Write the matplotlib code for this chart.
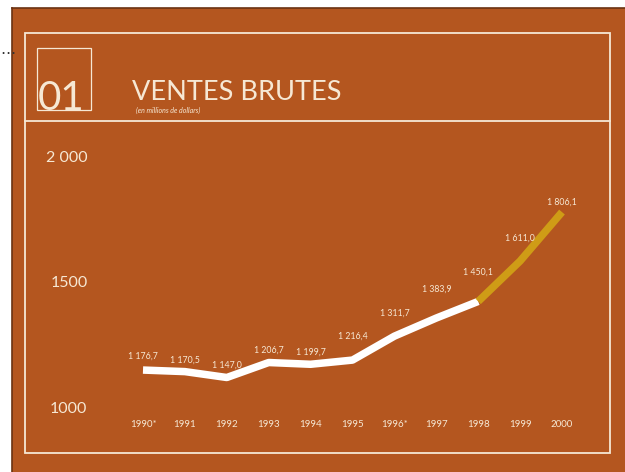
import matplotlib
matplotlib.use("Agg")
import matplotlib.pyplot as plt
from matplotlib.patches import Rectangle
from matplotlib.lines import Line2D
from matplotlib.transforms import ScaledTranslation

# ---- data ----
years = [1990, 1991, 1992, 1993, 1994, 1995, 1996, 1997, 1998, 1999, 2000]
year_labels = ["1990*", "1991", "1992", "1993", "1994", "1995", "1996*", "1997", "1998", "1999", "2000"]
sales = [1176.7, 1170.5, 1147.0, 1206.7, 1199.7, 1216.4, 1311.7, 1383.9, 1450.1, 1611.0, 1806.1]
value_labels = ["1 176,7", "1 170,5", "1 147,0", "1 206,7", "1 199,7", "1 216,4",
                "1 311,7", "1 383,9", "1 450,1", "1 611,0", "1 806,1"]
y_ticks = [1000, 1500, 2000]
y_tick_labels = ["1000", "1500", "2 000"]
split_year = 1998  # actual (white) vs forecast (gold)

# styling
BG = "#b4561f"
CREAM = "#f6e8d4"
GOLD = "#cf9c16"
FONT = ["Lato", "DejaVu Sans"]
label_dy_px = [14, 11, 12, 12, 12, 24, 23, 29, 29, 23, 10]

W, H = 625, 472
fig = plt.figure(figsize=(W / 100, H / 100), dpi=100, facecolor="white")

def fx(px):
    return px / W

def fy(py):
    return 1 - py / H

# orange panel
fig.add_artist(Rectangle((fx(12), 0), 1 - fx(12), fy(8), transform=fig.transFigure,
                         facecolor=BG, edgecolor="none", zorder=0))
fig.add_artist(Line2D([fx(12), 1], [fy(8), fy(8)], transform=fig.transFigure, color="#6b3212", lw=1.2))
fig.add_artist(Line2D([fx(12), fx(12)], [0, fy(8)], transform=fig.transFigure, color="#6b3212", lw=1.2))

# inner frame
fig.add_artist(Rectangle((fx(25), fy(453)), fx(610) - fx(25), fy(33) - fy(453),
                         transform=fig.transFigure, facecolor="none", edgecolor=CREAM, lw=1.3))
fig.add_artist(Line2D([fx(25), fx(610)], [fy(121), fy(121)], transform=fig.transFigure,
                      color=CREAM, lw=1.3))
# "01" box
fig.add_artist(Rectangle((fx(37), fy(110)), fx(91) - fx(37), fy(48) - fy(110),
                         transform=fig.transFigure, facecolor="none", edgecolor=CREAM, lw=0.9))
fig.text(fx(38), fy(110), "01", color=CREAM, fontsize=29, family=FONT, ha="left", va="baseline")
fig.text(fx(132), fy(100), "VENTES BRUTES", color=CREAM, fontsize=19.5,
         family=FONT, ha="left", va="baseline")
fig.text(fx(136), fy(110), "(en millions de dollars)", color=CREAM, fontsize=5, style="italic",
         family=FONT, ha="left", va="center")
fig.text(0.0, fy(50), "…", color="#333333", fontsize=11, ha="left", va="center")

# axes: 1990 -> x=143px, 2000 -> x=562px; 1000 -> y=414px, 2000 -> y=163px
ax = fig.add_axes([fx(143), fy(414.4), fx(562) - fx(143), fy(163.4) - fy(414.4)])
ax.set_facecolor("none")
ax.set_xlim(years[0], years[-1])
ax.set_ylim(1000, 2000)
for s in ax.spines.values():
    s.set_visible(False)

k = years.index(split_year)
ax.plot(years[:k + 1], sales[:k + 1], color="white", lw=5.4, solid_capstyle="butt",
        solid_joinstyle="round", clip_on=False, zorder=3)
ax.plot(years[k:], sales[k:], color=GOLD, lw=5.4, solid_capstyle="butt",
        solid_joinstyle="round", clip_on=False, zorder=3)

for x, v, lab, dy in zip(years, sales, value_labels, label_dy_px):
    ax.annotate(lab, (x, v), xytext=(0, dy * 0.72), textcoords="offset points",
                ha="center", va="center", color=CREAM, fontsize=6.3, family=FONT)

ax.set_xticks(years)
ax.set_xticklabels(year_labels, color=CREAM, fontsize=7, family=FONT)
ax.set_yticks(y_ticks)
ax.set_yticklabels(y_tick_labels, color=CREAM, fontsize=11.5, family=FONT)
ax.tick_params(axis="x", length=0, pad=4)
ax.tick_params(axis="y", length=0, pad=40)
off = ScaledTranslation(0, 7 / 100, fig.dpi_scale_trans)
for t in ax.get_yticklabels():
    t.set_transform(t.get_transform() + off)

fig.savefig("out.png", dpi=100, facecolor="white")
